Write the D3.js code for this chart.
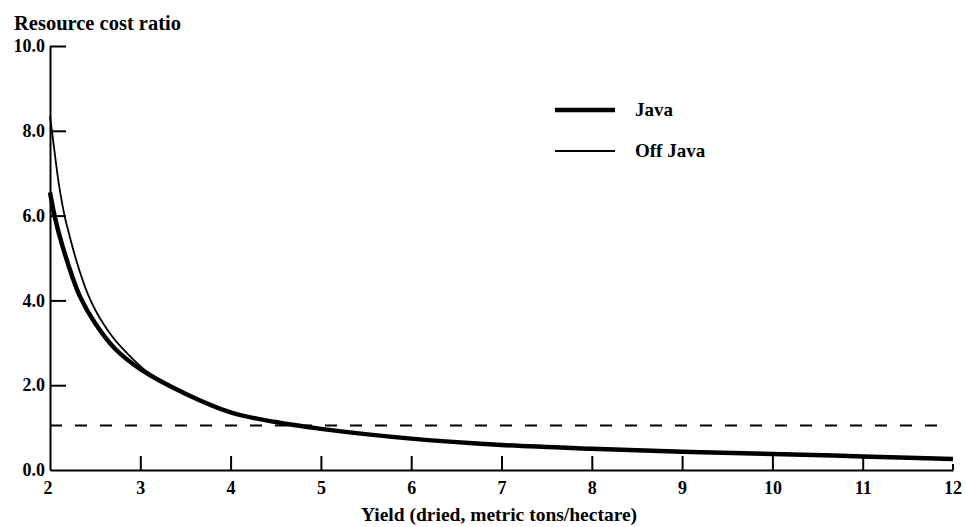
<!DOCTYPE html>
<html>
<head>
<meta charset="utf-8">
<script src="https://cdn.jsdelivr.net/npm/d3@7/dist/d3.min.js"></script>
<style>
  html, body { margin: 0; padding: 0; background: #fff; }
  svg text { font-family: "Liberation Serif", "Times New Roman", serif; font-weight: bold; fill: #000; }
</style>
</head>
<body>
<svg id="chart" width="966" height="527"></svg>
<script>
// Yield values (dried, metric tons/hectare) and resource cost ratios per region
const javaYield = [2.0, 2.05, 2.1, 2.2, 2.33, 2.5, 2.72, 3.0, 3.5, 4.0, 4.5, 5.0, 6.0, 7.0, 8.0, 9.0, 10.0, 11.0, 12.0];
const javaRatio = [6.55, 6.0, 5.57, 4.86, 4.1, 3.46, 2.86, 2.38, 1.8, 1.36, 1.13, 0.97, 0.74, 0.59, 0.5, 0.43, 0.38, 0.32, 0.26];

const offJavaYield = [2.0, 2.03, 2.1, 2.166, 2.2, 2.3, 2.42, 2.5, 2.6, 2.7, 2.81, 2.95, 3.1, 3.5, 4.0, 4.5, 5.0, 6.0, 7.0, 8.0, 9.0, 10.0, 11.0, 12.0];
const offJavaRatio = [8.35, 7.85, 6.72, 5.95, 5.66, 4.88, 4.14, 3.78, 3.42, 3.12, 2.85, 2.55, 2.28, 1.81, 1.37, 1.13, 0.97, 0.74, 0.59, 0.5, 0.43, 0.38, 0.32, 0.26];

// Break-even reference level (dashed)
const breakEvenYield = [2.0, 11.85];
const breakEvenRatio = [1.05, 1.05];

const xTicks = [2, 3, 4, 5, 6, 7, 8, 9, 10, 11, 12];
const yTicks = [0, 2, 4, 6, 8, 10];
const seriesNames = ["Java", "Off Java"];

const svg = d3.select("#chart");

const x = d3.scaleLinear().domain([2, 12]).range([50, 953]);
const y = d3.scaleLinear().domain([0, 10]).range([470, 46]);

const line = d3.line()
  .x(d => x(d[0]))
  .y(d => y(d[1]))
  .curve(d3.curveCatmullRom.alpha(0.5));

const zip = (a, b) => a.map((v, i) => [v, b[i]]);

// Axes
const xAxis = d3.axisBottom(x)
  .tickValues(xTicks.filter(t => t > 2 && t < 12))
  .tickFormat(d3.format("d"))
  .tickSize(-14)
  .tickSizeOuter(0)
  .tickPadding(11);

const gx = svg.append("g").attr("transform", `translate(0,${y(0)})`).call(xAxis);
gx.select(".domain").attr("stroke", "#000").attr("stroke-width", 2);
gx.selectAll(".tick line").attr("stroke", "#000").attr("stroke-width", 2);
gx.selectAll(".tick text").attr("font-size", 18).attr("dy", "0.71em");

// end labels at 2 and 12 placed with the same scale
gx.selectAll(".endlabel")
  .data([2, 12])
  .enter().append("text")
  .attr("class", "endlabel")
  .attr("x", d => x(d) - (d === 2 ? 2 : 0))
  .attr("y", 11)
  .attr("dy", "0.71em")
  .attr("text-anchor", "middle")
  .attr("font-size", 18)
  .text(d => d);

// short closing tick at the right end
gx.append("line")
  .attr("x1", x(12)).attr("x2", x(12))
  .attr("y1", 0).attr("y2", -6)
  .attr("stroke", "#000").attr("stroke-width", 2);

const yAxis = d3.axisLeft(y)
  .tickValues(yTicks)
  .tickFormat(d3.format(".1f"))
  .tickSize(-16)
  .tickSizeOuter(0)
  .tickPadding(5);

const gy = svg.append("g").attr("transform", `translate(${x(2)},0)`).call(yAxis);
gy.select(".domain").attr("stroke", "#000").attr("stroke-width", 2);
gy.selectAll(".tick line").attr("stroke", "#000").attr("stroke-width", 2)
  .filter(d => d === 0).remove();
gy.selectAll(".tick text").attr("font-size", 18).attr("x", -5).attr("text-anchor", "end");

// Axis titles
svg.append("text")
  .attr("x", 14).attr("y", 30)
  .attr("font-size", 20.5)
  .text("Resource cost ratio");

svg.append("text")
  .attr("x", 499).attr("y", 521)
  .attr("text-anchor", "middle")
  .attr("font-size", 19.5)
  .text("Yield (dried, metric tons/hectare)");

// Dashed break-even line
svg.append("path")
  .datum(zip(breakEvenYield, breakEvenRatio))
  .attr("d", d3.line().x(d => x(d[0])).y(d => y(d[1])))
  .attr("fill", "none")
  .attr("stroke", "#000")
  .attr("stroke-width", 2)
  .attr("stroke-dasharray", "12,13");

// Curves
svg.append("path")
  .datum(zip(offJavaYield, offJavaRatio))
  .attr("d", line)
  .attr("fill", "none")
  .attr("stroke", "#000")
  .attr("stroke-width", 1.8);

svg.append("path")
  .datum(zip(javaYield, javaRatio))
  .attr("d", line)
  .attr("fill", "none")
  .attr("stroke", "#000")
  .attr("stroke-width", 4.5);

// Legend
const legend = svg.append("g");
const legendY = [110, 151];
const legendW = [4.5, 1.8];
seriesNames.forEach((name, i) => {
  legend.append("line")
    .attr("x1", 555).attr("x2", 615)
    .attr("y1", legendY[i]).attr("y2", legendY[i])
    .attr("stroke", "#000").attr("stroke-width", legendW[i]);
  legend.append("text")
    .attr("x", 635).attr("y", legendY[i] + 6)
    .attr("font-size", 19)
    .text(name);
});
</script>
</body>
</html>
